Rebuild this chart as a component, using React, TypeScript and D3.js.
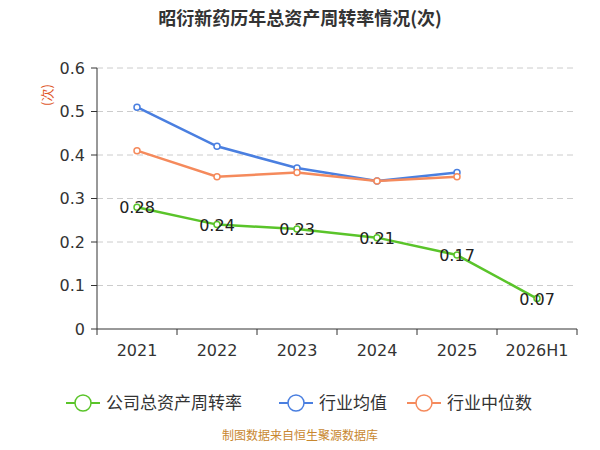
import * as d3 from "d3";

const categories = ["2021", "2022", "2023", "2024", "2025", "2026H1"];
const companyValues = [0.28, 0.24, 0.23, 0.21, 0.17, 0.07];
const industryAvg = [0.51, 0.42, 0.37, 0.34, 0.36];
const industryMedian = [0.41, 0.35, 0.36, 0.34, 0.35];
const yTicks = [0, 0.1, 0.2, 0.3, 0.4, 0.5, 0.6];

const W = 600;
const H = 450;
const left = 97;
const right = 577;
const top = 68;
const bottom = 329;

const App = () => {
  const x = d3.scaleBand<string>().domain(categories).range([left, right]);
  const y = d3.scaleLinear().domain([0, 0.6]).range([bottom, top]);
  const cx = (c: string) => (x(c) as number) + x.bandwidth() / 2;
  const line = d3
    .line<number>()
    .x((_, i) => cx(categories[i]))
    .y((d) => y(d));

  const series = [
    { name: "公司总资产周转率", color: "#5ac42a", data: companyValues },
    { name: "行业均值", color: "#4a7fe0", data: industryAvg },
    { name: "行业中位数", color: "#f58a5c", data: industryMedian },
  ];
  const font = "'Noto Sans CJK SC', 'Noto Sans', sans-serif";

  return (
    <svg width={W} height={H} style={{ display: "block", margin: "-8px" }} fontFamily={font}>
      <rect width={W} height={H} fill="#fff" />
      <text x={300} y={25} textAnchor="middle" fontSize={18} fontWeight="bold" fill="#333">
        昭衍新药历年总资产周转率情况(次)
      </text>
      <text transform="translate(52,95) rotate(-90)" textAnchor="middle" fontSize={13} fill="#e0582a">
        (次)
      </text>
      {yTicks.map((t) => (
        <g key={t}>
          {t > 0 && (
            <line x1={left} x2={right} y1={y(t)} y2={y(t)} stroke="#cccccc" strokeDasharray="6,4" />
          )}
          <line x1={left - 6} x2={left} y1={y(t)} y2={y(t)} stroke="#333" />
          <text x={left - 12} y={y(t)} dy="0.35em" textAnchor="end" fontSize={16} fill="#333" fontFamily="'DejaVu Sans', sans-serif">
            {t === 0 ? "0" : t.toFixed(1)}
          </text>
        </g>
      ))}
      <line x1={left} x2={left} y1={top} y2={bottom} stroke="#333" />
      <line x1={left} x2={right} y1={bottom} y2={bottom} stroke="#333" />
      {categories.map((c, i) => (
        <g key={c}>
          <line x1={(x(c) as number)} x2={(x(c) as number)} y1={bottom} y2={bottom + 6} stroke="#333" />
          {i === categories.length - 1 && (
            <line x1={right} x2={right} y1={bottom} y2={bottom + 6} stroke="#333" />
          )}
          <text x={cx(c)} y={bottom + 27} textAnchor="middle" fontSize={16} fill="#333" fontFamily="'DejaVu Sans', sans-serif">
            {c}
          </text>
        </g>
      ))}
      {series.map((s) => (
        <g key={s.name}>
          <path d={line(s.data) as string} fill="none" stroke={s.color} strokeWidth={2.5} />
          {s.data.map((v, i) => (
            <circle key={i} cx={cx(categories[i])} cy={y(v)} r={3} fill="#fff" stroke={s.color} strokeWidth={1.5} />
          ))}
        </g>
      ))}
      {companyValues.map((v, i) => (
        <text key={i} x={cx(categories[i])} y={y(v) + 6} textAnchor="middle" fontSize={16} fill="#222" fontFamily="'DejaVu Sans', sans-serif">
          {v.toFixed(2)}
        </text>
      ))}
      {series.map((s, i) => {
        const lx = [66, 279, 407][i];
        return (
          <g key={s.name} transform={`translate(${lx},403)`}>
            <line x1={0} x2={34} y1={0} y2={0} stroke={s.color} strokeWidth={2} />
            <circle cx={17} cy={0} r={8} fill="#fff" stroke={s.color} strokeWidth={1.5} />
            <text x={40} y={0} dy="0.35em" fontSize={17} fill="#333">
              {s.name}
            </text>
          </g>
        );
      })}
      <text x={300} y={440} textAnchor="middle" fontSize={12} fill="#c8872f">
        制图数据来自恒生聚源数据库
      </text>
    </svg>
  );
};

export default App;
